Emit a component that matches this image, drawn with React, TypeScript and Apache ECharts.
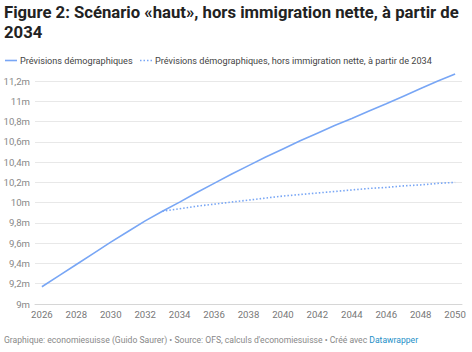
import React, { useEffect, useRef } from "react";
import * as echarts from "echarts";

const years: number[] = [2026, 2027, 2028, 2029, 2030, 2031, 2032, 2033, 2034, 2035, 2036, 2037, 2038, 2039, 2040, 2041, 2042, 2043, 2044, 2045, 2046, 2047, 2048, 2049, 2050];
const baseline: number[] = [9.17, 9.28, 9.39, 9.5, 9.61, 9.715, 9.82, 9.915, 10.005, 10.1, 10.19, 10.28, 10.365, 10.45, 10.53, 10.61, 10.685, 10.76, 10.83, 10.905, 10.975, 11.05, 11.125, 11.2, 11.27];
const noImmigYears: number[] = [2033, 2034, 2035, 2036, 2037, 2038, 2039, 2040, 2041, 2042, 2043, 2044, 2045, 2046, 2047, 2048, 2049, 2050];
const noImmig: number[] = [9.915, 9.94, 9.965, 9.985, 10.005, 10.025, 10.045, 10.065, 10.08, 10.095, 10.11, 10.125, 10.14, 10.15, 10.165, 10.175, 10.19, 10.2];
const xTicks: number[] = [2026, 2028, 2030, 2032, 2034, 2036, 2038, 2040, 2042, 2044, 2046, 2048, 2050];
const seriesNames: string[] = ["Prévisions démographiques", "Prévisions démographiques, hors immigration nette, à partir de 2034"];

const FONT = "Roboto, 'Noto Sans', sans-serif";
const BLUE = "#78a6f5";

export default function App() {
  const ref = useRef<HTMLDivElement>(null);
  useEffect(() => {
    if (!ref.current) return;
    const chart = echarts.init(ref.current, undefined, { renderer: "svg" });
    chart.setOption({
      animation: false,
      backgroundColor: "#ffffff",
      textStyle: { fontFamily: FONT },
      title: {
        text: "Figure 2: Scénario «haut», hors immigration nette, à partir de\n2034",
        left: 4,
        top: 2,
        padding: 0,
        textStyle: { fontFamily: FONT, fontSize: 16.7, fontWeight: "bold", color: "#222", lineHeight: 20 },
      },
      graphic: [
        { type: "line", shape: { x1: 5, y1: 60.5, x2: 17, y2: 60.5 }, style: { stroke: BLUE, lineWidth: 1.6 } },
        {
          type: "text",
          x: 20,
          y: 60.5,
          style: { text: seriesNames[0], fontFamily: FONT, fontSize: 9.15, fill: "#444", verticalAlign: "middle" },
        },
        { type: "line", shape: { x1: 140, y1: 60.5, x2: 152, y2: 60.5 }, style: { stroke: BLUE, lineWidth: 1.6, lineDash: [1.5, 2] } },
        {
          type: "text",
          x: 155,
          y: 60.5,
          style: { text: seriesNames[1], fontFamily: FONT, fontSize: 9.15, fill: "#444", verticalAlign: "middle" },
        },
        {
          type: "text",
          x: 4,
          y: 340,
          style: {
            text: "{g|Graphique: economiesuisse (Guido Saurer) • Source: OFS, calculs d'economiesuisse • Créé avec }{d|Datawrapper}",
            verticalAlign: "middle",
            rich: {
              g: { fontFamily: FONT, fontSize: 8.6, fill: "#888", color: "#888" },
              d: { fontFamily: FONT, fontSize: 8.6, fill: "#1d8fc7", color: "#1d8fc7" },
            },
          },
        },
      ],
      grid: { left: 35, right: 10, top: 81, bottom: 48, containLabel: false },
      xAxis: {
        type: "value",
        min: 2025.6,
        max: 2050.4,
        axisLine: { show: true, lineStyle: { color: "#d6d6d6" } },
        axisTick: { show: false },
        splitLine: { show: false },
        axisLabel: {
          customValues: xTicks,
          formatter: (v: number) => String(v),
          color: "#777",
          fontFamily: FONT,
          fontSize: 9.6,
          margin: 5,
        },
      },
      yAxis: {
        type: "value",
        min: 9,
        max: 11.2,
        interval: 0.2,
        axisLine: { show: false },
        axisTick: { show: false },
        splitLine: { lineStyle: { color: "#e8e8e8" } },
        axisLabel: {
          formatter: (v: number) => (Math.round(v * 10) / 10).toString().replace(".", ",") + "m",
          color: "#888",
          fontFamily: FONT,
          fontSize: 9.6,
          margin: 5,
        },
      },
      series: [
        {
          name: seriesNames[0],
          type: "line",
          data: years.map((y, i) => [y, baseline[i]]),
          showSymbol: false,
          symbol: "none",
          clip: false,
          lineStyle: { color: BLUE, width: 1.6 },
          itemStyle: { color: BLUE },
          z: 3,
        },
        {
          name: seriesNames[1],
          type: "line",
          data: noImmigYears.map((y, i) => [y, noImmig[i]]),
          showSymbol: false,
          symbol: "none",
          clip: false,
          lineStyle: { color: BLUE, width: 1.6, type: [1.5, 2] },
          itemStyle: { color: BLUE },
          z: 2,
        },
      ],
    });
    return () => chart.dispose();
  }, []);
  return <div ref={ref} style={{ width: 472, height: 352, position: "absolute", left: 0, top: 0 }} />;
}
